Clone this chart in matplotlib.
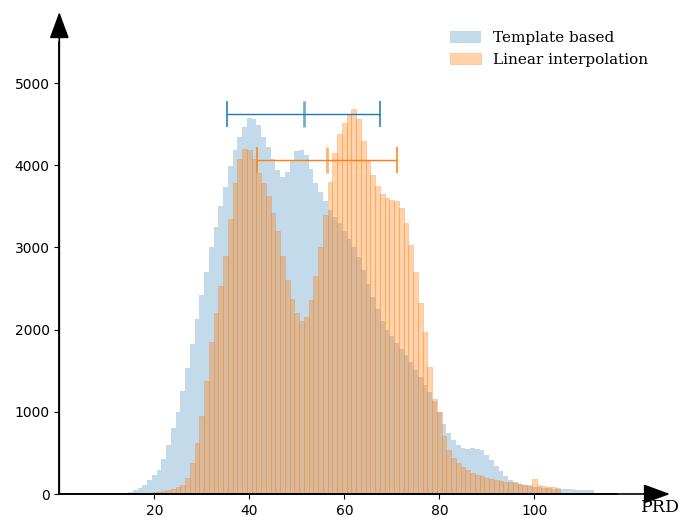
import numpy as np
import matplotlib
matplotlib.use("Agg")
import matplotlib.pyplot as plt

# PRD bins (bin centres, width 1)
prd_template = list(range(10, 113))
count_template = [5, 5, 8, 10, 15, 25, 45, 70, 110, 165,
                  230, 290, 420, 600, 800, 1000, 1250, 1530, 1820, 2130,
                  2420, 2700, 3000, 3250, 3500, 3740, 3990, 4190, 4350, 4460,
                  4570, 4560, 4490, 4350, 4220, 4080, 3940, 3860, 3920, 4060,
                  4170, 4190, 4120, 3950, 3790, 3680, 3560, 3450, 3370, 3300,
                  3200, 3100, 3000, 2880, 2720, 2560, 2400, 2250, 2110, 2000,
                  1920, 1840, 1760, 1690, 1610, 1510, 1420, 1330, 1240, 1130,
                  1000, 850, 740, 660, 600, 560, 550, 560, 550, 530,
                  480, 410, 340, 280, 220, 175, 145, 125, 110, 100,
                  90, 80, 75, 70, 65, 62, 60, 58, 55, 52,
                  50, 48, 45]

prd_linear = list(range(8, 106))
count_linear = [3, 3, 4, 4, 5, 6, 8, 10, 12, 14,
                16, 18, 20, 25, 35, 45, 60, 80, 110, 200,
                380, 620, 950, 1380, 1850, 2200, 2530, 2900, 3350, 3780,
                4080, 4200, 4180, 4080, 3900, 3780, 3630, 3420, 3200, 2900,
                2600, 2370, 2200, 2100, 2150, 2360, 2650, 3000, 3400, 3800,
                4150, 4380, 4520, 4620, 4680, 4560, 4300, 4050, 3880, 3750,
                3650, 3600, 3580, 3560, 3480, 3300, 3030, 2700, 2330, 1970,
                1550, 1150, 1000, 700, 540, 440, 380, 330, 290, 260,
                235, 215, 195, 180, 170, 160, 150, 140, 130, 120,
                115, 110, 180, 110, 100, 90, 80, 70]

# mean +- std markers
mean_template, std_template, y_template = 51.5, 16.1, 4620
mean_linear, std_linear, y_linear = 56.3, 14.7, 4070

fig = plt.figure(figsize=(6.84, 5.17), dpi=100)
ax = fig.add_axes([59.3 / 684, 1 - 494 / 517, (617 - 59.3) / 684, (494 - 42) / 517])

ax.bar(prd_template, count_template, width=1.0, color="C0", alpha=0.27,
       linewidth=0, label="Template based")
ax.bar(prd_linear, count_linear, width=1.0, color="C1", alpha=0.35,
       edgecolor=(1.0, 0.5, 0.05, 0.3), linewidth=0.6, label="Linear interpolation")

for m, s, y, c in [(mean_template, std_template, y_template, "C0"),
                   (mean_linear, std_linear, y_linear, "C1")]:
    ax.errorbar(m, y, xerr=s, fmt="none", ecolor=c, elinewidth=1.0,
                capsize=9.5, capthick=1.1)
    ax.plot(m, y, marker="|", color=c, markersize=19, mew=2.0, alpha=0.6)

ax.set_xlim(0, 117.4)
ax.set_ylim(0, 5500)
ax.set_xticks([20, 40, 60, 80, 100])
ax.set_yticks([0, 1000, 2000, 3000, 4000, 5000])
ax.tick_params(labelsize=10)
for side in ["top", "right"]:
    ax.spines[side].set_visible(False)
for side in ["left", "bottom"]:
    ax.spines[side].set_linewidth(1.2)

# axis arrows
arrow_style = dict(arrowstyle="-|>,head_length=1.5,head_width=0.55",
                   color="black", lw=1.2, shrinkA=0, shrinkB=0, mutation_scale=11)
ax.annotate("", xy=(670 / 684, 1 - 494 / 517), xycoords="figure fraction",
            xytext=(59.3 / 684, 1 - 494 / 517), textcoords="figure fraction",
            arrowprops=arrow_style)
ax.annotate("", xy=(59.3 / 684, 1 - 12 / 517), xycoords="figure fraction",
            xytext=(59.3 / 684, 1 - 494 / 517), textcoords="figure fraction",
            arrowprops=arrow_style)

fig.text(641 / 684, 1.5 / 517, "PRD", ha="left", va="bottom",
         family="DejaVu Serif", fontsize=12.5)

ax.legend(loc="upper right", bbox_to_anchor=(1.08, 1.055), frameon=False,
          prop={"family": "DejaVu Serif", "size": 11},
          handlelength=2.0, handleheight=0.8)

fig.savefig("out.png", dpi=100)
